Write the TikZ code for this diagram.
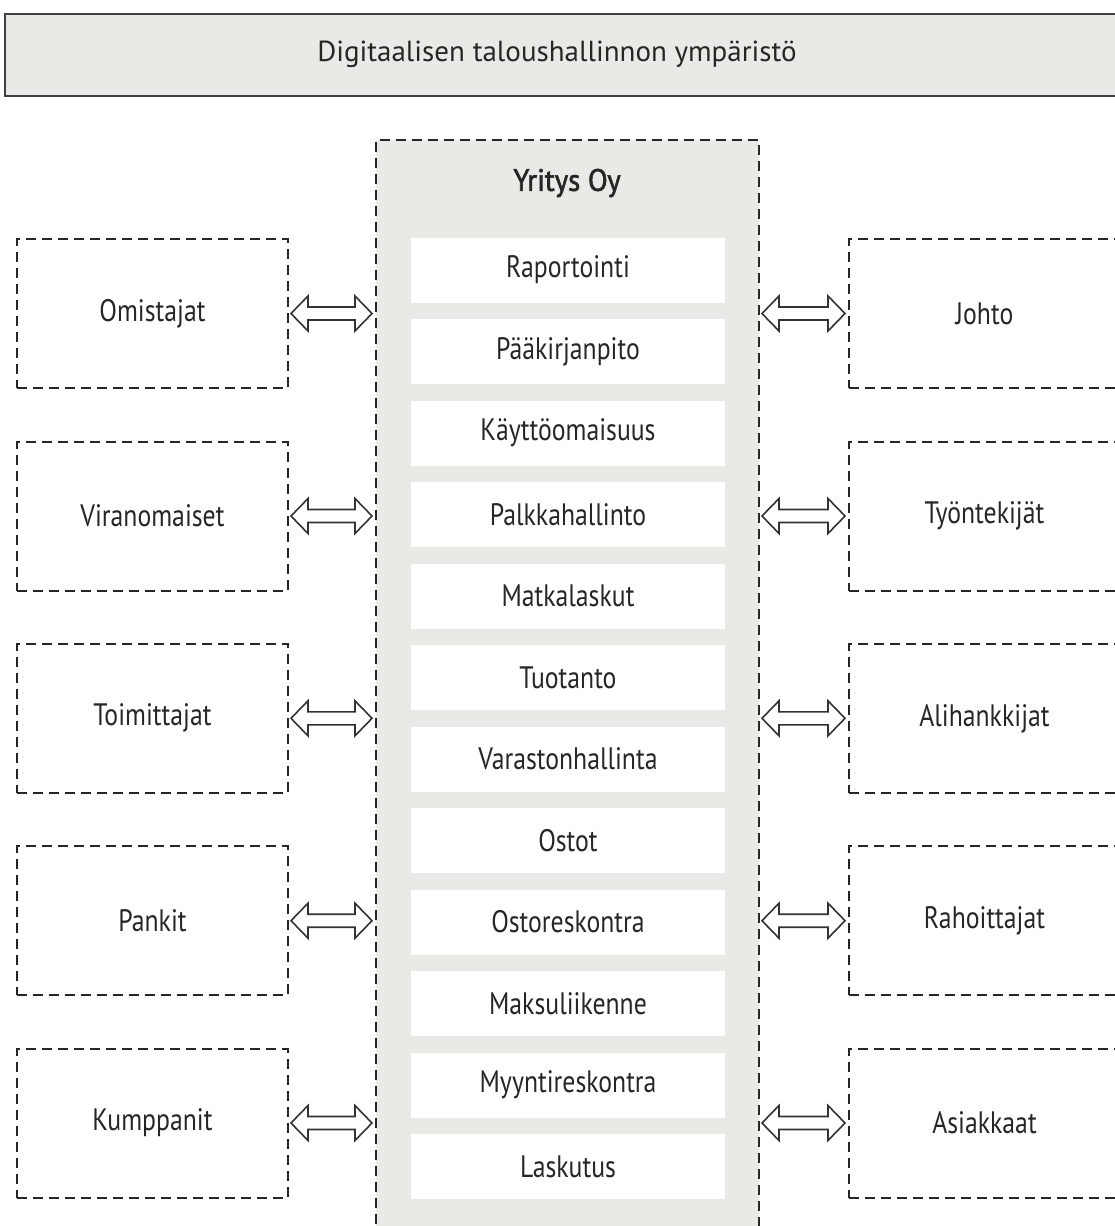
\documentclass[tikz,border=0pt]{standalone}
\usepackage{fontspec}
\setmainfont{PT Sans}
\newfontfamily\labelfont{PT Sans}[FakeStretch=0.83]
\newfontfamily\headfont{PT Sans}[FakeStretch=0.93, FakeBold=1.8]
\usetikzlibrary{calc}

\definecolor{panelgray}{RGB}{233,233,230}
\definecolor{arrowgray}{RGB}{224,224,220}

\tikzset{
  banner/.style={draw=black!75, line width=2.5pt, fill=panelgray,
    minimum width=1125pt, minimum height=82pt, inner sep=0pt},
  column/.style={draw=black!85, line width=2pt, dash pattern=on 10pt off 6pt,
    fill=panelgray, minimum width=383pt, minimum height=1120pt, inner sep=0pt},
  module/.style={fill=white, minimum width=314pt, minimum height=65pt, inner sep=0pt},
  party/.style={draw=black!85, line width=2pt, dash pattern=on 10pt off 6pt,
    minimum width=271pt, minimum height=149pt, inner sep=0pt},
  bigarrow/.style={draw=black!80, line width=1.6pt, fill=arrowgray, line join=miter,
    to path={let \p1=(\tikztostart), \p2=(\tikztotarget) in
      (\x1+2pt,\y1) -- (\x1+19pt,\y1+17.5pt) -- (\x1+19pt,\y1+6.5pt)
      -- (\x2-20pt,\y1+6.5pt) -- (\x2-20pt,\y1+17.5pt) -- (\x2-3pt,\y1)
      -- (\x2-20pt,\y1-17.5pt) -- (\x2-20pt,\y1-6.5pt) -- (\x1+19pt,\y1-6.5pt)
      -- (\x1+19pt,\y1-17.5pt) -- cycle}}
}

\begin{document}
\begin{tikzpicture}[x=1pt, y=-1pt, font=\labelfont\fontsize{31}{36}\selectfont, text=black!85]
  \path[use as bounding box, clip] (0,0) rectangle (1115,1226);

  \node[banner] (ymparisto) at (567.5,55) {};
  \node[font=\normalfont\fontsize{29}{34}\selectfont] (ymparistoteksti) at (557,54)
    {Digitaalisen taloushallinnon ympäristö};

  \node[column] (yritys) at (567.5,700) {};
  \node[font=\headfont\fontsize{31}{36}\selectfont] (yritysnimi) at (567,183) {Yritys Oy};

  \path
    (568,270) node[module] (raportointi) {Raportointi}
    (568,351.5) node[module] (paakirjanpito) {Pääkirjanpito}
    (568,433) node[module] (kayttoomaisuus) {Käyttöomaisuus}
    (568,514.5) node[module] (palkkahallinto) {Palkkahallinto}
    (568,596) node[module] (matkalaskut) {Matkalaskut}
    (568,677.5) node[module] (tuotanto) {Tuotanto}
    (568,759) node[module] (varastonhallinta) {Varastonhallinta}
    (568,840.5) node[module] (ostot) {Ostot}
    (568,922) node[module] (ostoreskontra) {Ostoreskontra}
    (568,1003.5) node[module] (maksuliikenne) {Maksuliikenne}
    (568,1085) node[module] (myyntireskontra) {Myyntireskontra}
    (568,1166.5) node[module] (laskutus) {Laskutus};

  \path
    (152.5,313.5) node[party] (omistajat) {Omistajat}
    (152.5,516) node[party] (viranomaiset) {Viranomaiset}
    (152.5,718.3) node[party] (toimittajat) {Toimittajat}
    (152.5,920.7) node[party] (pankit) {Pankit}
    (152.5,1123) node[party] (kumppanit) {Kumppanit}
    (984.5,313.5) node[party] (johto) {Johto}
    (984.5,516) node[party] (tyontekijat) {Työntekijät}
    (984.5,718.3) node[party] (alihankkijat) {Alihankkijat}
    (984.5,920.7) node[party] (rahoittajat) {Rahoittajat}
    (984.5,1123) node[party] (asiakkaat) {Asiakkaat};

  \begin{scope}[bigarrow]
    \draw (omistajat.east) to (omistajat.east -| yritys.west);
    \draw (viranomaiset.east) to (viranomaiset.east -| yritys.west);
    \draw (toimittajat.east) to (toimittajat.east -| yritys.west);
    \draw (pankit.east) to (pankit.east -| yritys.west);
    \draw (kumppanit.east) to (kumppanit.east -| yritys.west);
    \draw (yritys.east |- johto.west) to (johto.west);
    \draw (yritys.east |- tyontekijat.west) to (tyontekijat.west);
    \draw (yritys.east |- alihankkijat.west) to (alihankkijat.west);
    \draw (yritys.east |- rahoittajat.west) to (rahoittajat.west);
    \draw (yritys.east |- asiakkaat.west) to (asiakkaat.west);
  \end{scope}
\end{tikzpicture}
\end{document}
